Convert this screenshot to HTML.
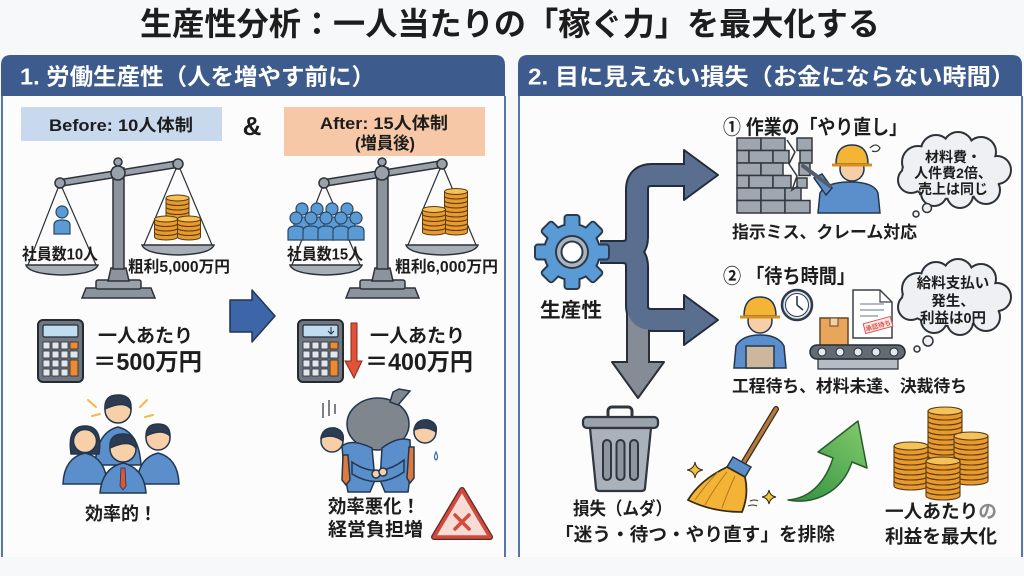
<!DOCTYPE html>
<html><head><meta charset="utf-8">
<style>
html,body{margin:0;padding:0;background:#f7f8fa;}
svg{display:block;}
text{font-family:"Liberation Sans","Noto Sans CJK JP",sans-serif;font-weight:bold;fill:#1d1d1d;}
</style></head><body>
<svg width="1024" height="576" viewBox="0 0 1024 576" xmlns="http://www.w3.org/2000/svg" xmlns:xlink="http://www.w3.org/1999/xlink">
<defs>
<g id="coinS"><path d="M-11.5 0 L-11.5 4.5 A11.5 3 0 0 0 11.5 4.5 L11.5 0 Z" fill="#e99a2e" stroke="#5b3b10" stroke-width="1"/><ellipse cx="0" cy="0" rx="11.5" ry="3" fill="#f6c158" stroke="#5b3b10" stroke-width="1"/></g>
<g id="coinL"><path d="M-17 0 L-17 5 A17 4 0 0 0 17 5 L17 0 Z" fill="#e99a2e" stroke="#5b3b10" stroke-width="1.1"/><ellipse cx="0" cy="0" rx="17" ry="4" fill="#f6c158" stroke="#5b3b10" stroke-width="1.1"/></g>
<g id="pp"><path d="M-8 22 L-8 13 Q-8 8 0 8 Q8 8 8 13 L8 22 Z" fill="#5b9bd5" stroke="#2c4763" stroke-width="1.2"/><circle cx="0" cy="0" r="6" fill="#5b9bd5" stroke="#2c4763" stroke-width="1.2"/></g>
<g id="scf">
<path d="M60 183 L28 265 M60 183 L96 265 M178 164 L144 245 M178 164 L212 245" stroke="#2d3239" stroke-width="1.2" fill="none"/>
<path d="M82 298 L86 288 L151 288 L155 298 Z" fill="#8c939c" stroke="#2d3239" stroke-width="1.5"/>
<rect x="96" y="280" width="45" height="9" rx="2" fill="#9aa1aa" stroke="#2d3239" stroke-width="1.5"/>
<path d="M108 281 L111 268 L126 268 L129 281 Z" fill="#8c939c" stroke="#2d3239" stroke-width="1.5"/>
<rect x="113" y="168" width="11" height="101" fill="#8c939c" stroke="#2d3239" stroke-width="1.5"/>
<line x1="60" y1="183" x2="178" y2="164" stroke="#2d3239" stroke-width="8" stroke-linecap="round"/>
<line x1="60" y1="183" x2="178" y2="164" stroke="#9aa1aa" stroke-width="5" stroke-linecap="round"/>
<circle cx="118" cy="162" r="4" fill="#9aa1aa" stroke="#2d3239" stroke-width="1.5"/>
<circle cx="118" cy="173" r="7" fill="#9aa1aa" stroke="#2d3239" stroke-width="1.5"/>
<circle cx="60" cy="183" r="5" fill="#9aa1aa" stroke="#2d3239" stroke-width="1.5"/>
<circle cx="178" cy="164" r="5" fill="#9aa1aa" stroke="#2d3239" stroke-width="1.5"/>
<path d="M26 265 L98 265 Q95 274 62 275 Q29 274 26 265 Z" fill="#a8aeb6" stroke="#2d3239" stroke-width="1.5"/>
<path d="M142 245 L214 245 Q211 254 178 255 Q145 254 142 245 Z" fill="#a8aeb6" stroke="#2d3239" stroke-width="1.5"/>
</g>
<g id="calc">
<rect x="0" y="0" width="45" height="62" rx="5" fill="#6e7782" stroke="#262b31" stroke-width="2"/>
<rect x="5" y="5" width="35" height="12" rx="1.5" fill="#bfdcf0" stroke="#262b31" stroke-width="1.2"/>
<g fill="#e3e7ec" stroke="#262b31" stroke-width="0.8">
<rect x="5" y="22" width="7" height="7"/><rect x="14" y="22" width="7" height="7"/><rect x="23" y="22" width="7" height="7"/>
<rect x="5" y="31" width="7" height="7"/><rect x="14" y="31" width="7" height="7"/><rect x="23" y="31" width="7" height="7"/><rect x="32" y="31" width="8" height="7"/>
<rect x="5" y="40" width="7" height="7"/><rect x="14" y="40" width="7" height="7"/><rect x="23" y="40" width="7" height="7"/>
<rect x="5" y="49" width="7" height="7"/><rect x="14" y="49" width="7" height="7"/><rect x="23" y="49" width="7" height="7"/>
</g>
<rect x="32" y="22" width="8" height="7" fill="#ee8a2f" stroke="#262b31" stroke-width="0.8"/>
<rect x="32" y="40" width="8" height="16" fill="#ee8a2f" stroke="#262b31" stroke-width="0.8"/>
</g>
<g id="gs">
<circle cx="0" cy="0" r="27"/>
<rect x="-6.5" y="-36" width="13" height="14" rx="2"/>
<rect x="-6.5" y="-36" width="13" height="14" rx="2" transform="rotate(45)"/>
<rect x="-6.5" y="-36" width="13" height="14" rx="2" transform="rotate(90)"/>
<rect x="-6.5" y="-36" width="13" height="14" rx="2" transform="rotate(135)"/>
<rect x="-6.5" y="-36" width="13" height="14" rx="2" transform="rotate(180)"/>
<rect x="-6.5" y="-36" width="13" height="14" rx="2" transform="rotate(225)"/>
<rect x="-6.5" y="-36" width="13" height="14" rx="2" transform="rotate(270)"/>
<rect x="-6.5" y="-36" width="13" height="14" rx="2" transform="rotate(315)"/>
</g>
<g id="cl">
<ellipse cx="953" cy="172" rx="50" ry="26"/>
<circle cx="918" cy="162" r="15"/><circle cx="936" cy="150" r="14"/><circle cx="958" cy="147" r="14"/>
<circle cx="981" cy="152" r="14"/><circle cx="997" cy="170" r="13"/><circle cx="986" cy="190" r="13"/>
<circle cx="960" cy="195" r="12"/><circle cx="934" cy="193" r="12"/><circle cx="911" cy="180" r="12"/>
</g>
<path id="br" d="M600 252 L622 252 Q637 252 637 237 L637 190 Q637 175 652 175 L692 175 M622 252 Q637 252 637 267 L637 305 Q637 320 652 320 L692 320" fill="none"/>
<linearGradient id="gg" x1="0" y1="1" x2="1" y2="0"><stop offset="0" stop-color="#2f8f3f"/><stop offset="1" stop-color="#84cc6c"/></linearGradient>
</defs>

<rect width="1024" height="576" fill="#f7f8fa"/>

<!-- Title -->
<text x="140" y="35" font-size="32" textLength="740" lengthAdjust="spacingAndGlyphs">生産性分析：一人当たりの「稼ぐ力」を最大化する</text>

<!-- Panels -->
<rect x="2" y="96" width="503" height="461" fill="#fcfcfd"/>
<rect x="519" y="96" width="503" height="461" fill="#fcfcfd"/>
<path d="M1 96 L1 65 Q1 55 11 55 L495 55 Q505 55 505 65 L505 96 Z" fill="#3d5c8d"/>
<path d="M518 96 L518 65 Q518 55 528 55 L1012 55 Q1022 55 1022 65 L1022 96 Z" fill="#3d5c8d"/>
<path d="M2 96 L2 557 M505 96 L505 557 M519 96 L519 557 M1022 96 L1022 557" stroke="#5676a7" stroke-width="2" fill="none"/>
<text x="20" y="84.5" font-size="23" textLength="355" lengthAdjust="spacingAndGlyphs" style="fill:#fff">1. 労働生産性（人を増やす前に）</text>
<text x="528" y="84.5" font-size="23" textLength="487" lengthAdjust="spacingAndGlyphs" style="fill:#fff">2. 目に見えない損失（お金にならない時間）</text>

<!-- Before / After -->
<rect x="21" y="107" width="201" height="34" fill="#c8d8ed"/>
<rect x="284" y="107" width="201" height="49" fill="#f7c8a7"/>
<text x="49" y="131" font-size="17" textLength="144" lengthAdjust="spacingAndGlyphs">Before: 10人体制</text>
<text x="252" y="135" font-size="26" text-anchor="middle">&amp;</text>
<text x="320" y="129" font-size="17" textLength="128" lengthAdjust="spacingAndGlyphs">After: 15人体制</text>
<text x="355" y="149" font-size="17" textLength="60" lengthAdjust="spacingAndGlyphs">(増員後)</text>

<!-- Scales -->
<use href="#scf" xlink:href="#scf"/>
<use href="#scf" xlink:href="#scf" x="264"/>
<use href="#pp" xlink:href="#pp" x="62" y="212"/>
<!-- coins scale1 -->
<use href="#coinS" xlink:href="#coinS" x="177.5" y="211.5"/><use href="#coinS" xlink:href="#coinS" x="177.5" y="207"/><use href="#coinS" xlink:href="#coinS" x="177.5" y="202.5"/><use href="#coinS" xlink:href="#coinS" x="177.5" y="198"/>
<use href="#coinS" xlink:href="#coinS" x="166" y="232.5"/><use href="#coinS" xlink:href="#coinS" x="166" y="228"/><use href="#coinS" xlink:href="#coinS" x="166" y="223.5"/><use href="#coinS" xlink:href="#coinS" x="166" y="219"/>
<use href="#coinS" xlink:href="#coinS" x="189" y="232.5"/><use href="#coinS" xlink:href="#coinS" x="189" y="228"/><use href="#coinS" xlink:href="#coinS" x="189" y="223.5"/><use href="#coinS" xlink:href="#coinS" x="189" y="219"/>
<!-- people scale2 -->
<use href="#pp" xlink:href="#pp" x="302" y="209"/><use href="#pp" xlink:href="#pp" x="317" y="209"/><use href="#pp" xlink:href="#pp" x="332" y="209"/><use href="#pp" xlink:href="#pp" x="347" y="209"/>
<use href="#pp" xlink:href="#pp" x="296" y="218"/><use href="#pp" xlink:href="#pp" x="311" y="218"/><use href="#pp" xlink:href="#pp" x="326" y="218"/><use href="#pp" xlink:href="#pp" x="341" y="218"/><use href="#pp" xlink:href="#pp" x="356" y="218"/>
<!-- coins scale2 -->
<use href="#coinS" xlink:href="#coinS" x="456" y="227.5"/><use href="#coinS" xlink:href="#coinS" x="456" y="223"/><use href="#coinS" xlink:href="#coinS" x="456" y="218.5"/><use href="#coinS" xlink:href="#coinS" x="456" y="214"/><use href="#coinS" xlink:href="#coinS" x="456" y="209.5"/><use href="#coinS" xlink:href="#coinS" x="456" y="205"/><use href="#coinS" xlink:href="#coinS" x="456" y="200.5"/><use href="#coinS" xlink:href="#coinS" x="456" y="196"/><use href="#coinS" xlink:href="#coinS" x="456" y="191.5"/>
<use href="#coinS" xlink:href="#coinS" x="434" y="227.5"/><use href="#coinS" xlink:href="#coinS" x="434" y="223"/><use href="#coinS" xlink:href="#coinS" x="434" y="218.5"/><use href="#coinS" xlink:href="#coinS" x="434" y="214"/><use href="#coinS" xlink:href="#coinS" x="434" y="209.5"/>

<text x="22" y="259.5" font-size="16" textLength="76" lengthAdjust="spacingAndGlyphs">社員数10人</text>
<text x="128" y="272" font-size="16" textLength="102" lengthAdjust="spacingAndGlyphs">粗利5,000万円</text>
<text x="287" y="259.5" font-size="16" textLength="76" lengthAdjust="spacingAndGlyphs">社員数15人</text>
<text x="395" y="272" font-size="16" textLength="103" lengthAdjust="spacingAndGlyphs">粗利6,000万円</text>

<!-- blue arrow -->
<path d="M230 300 L252 300 L252 290 L275 316 L252 342 L252 332 L230 332 Z" fill="#3d66a8" stroke="#1f3457" stroke-width="1.5" stroke-linejoin="round"/>

<!-- calculators -->
<use href="#calc" xlink:href="#calc" x="38" y="320"/>
<use href="#calc" xlink:href="#calc" x="298" y="320"/>
<path d="M331 327 L331 334 M328 331 L331 334 L334 331" stroke="#262b31" stroke-width="1" fill="none"/>
<path d="M351 323 L357 323 L357 361 L362 361 L354 378 L345 361 L351 361 Z" fill="#e0523a" stroke="#8a2a1a" stroke-width="1"/>
<text x="98" y="342" font-size="19" textLength="95" lengthAdjust="spacingAndGlyphs">一人あたり</text>
<text x="93" y="370" font-size="24" textLength="109" lengthAdjust="spacingAndGlyphs">＝500万円</text>
<text x="370" y="342" font-size="19" textLength="95" lengthAdjust="spacingAndGlyphs">一人あたり</text>
<text x="365" y="370" font-size="24" textLength="108" lengthAdjust="spacingAndGlyphs">＝400万円</text>

<!-- happy people -->
<g stroke="#f2b84a" stroke-width="2" stroke-linecap="round">
<line x1="88" y1="400" x2="96" y2="407"/><line x1="92" y1="416" x2="100" y2="414"/>
<line x1="140" y1="407" x2="147" y2="400"/><line x1="145" y1="417" x2="153" y2="415"/>
</g>
<g stroke="#23364f" stroke-width="1.5">
<path d="M95 465 Q97 432 118 427 Q139 432 141 465 Z" fill="#5b8fcb"/>
<circle cx="118" cy="410" r="13" fill="#f7cfa8"/>
<path d="M105 409 Q104 395 118 395 Q132 395 131 409 Q124 400 105 409 Z" fill="#2d3c52"/>
<path d="M71 454 Q67 426 85 426 Q103 426 99 454 Z" fill="#2d3c52"/>
<path d="M63 484 Q64 458 85 453 Q106 458 107 484 Z" fill="#5b8fcb"/>
<circle cx="85" cy="441" r="11.5" fill="#f7cfa8"/>
<path d="M137 484 Q138 458 158 453 Q178 458 179 484 Z" fill="#5b8fcb"/>
<circle cx="158" cy="438" r="12" fill="#f7cfa8"/>
<path d="M146 436 Q146 424 158 424 Q170 424 170 436 Q162 428 146 436 Z" fill="#2d3c52"/>
<path d="M100 493 Q102 468 123 463 Q144 468 146 493 Z" fill="#5b8fcb"/>
<circle cx="123" cy="449" r="13" fill="#f7cfa8"/>
<path d="M110 448 Q109 434 123 434 Q137 434 136 448 Q129 439 110 448 Z" fill="#2d3c52"/>
<path d="M121 468 L125 468 L126 486 L123 490 L120 486 Z" fill="#d9573a" stroke-width="0.8"/>
</g>
<text x="85" y="520" font-size="18" textLength="72" lengthAdjust="spacingAndGlyphs">効率的！</text>

<!-- men carrying bag -->
<g stroke="#2a2f35" stroke-width="1.2" fill="none"><line x1="323" y1="403" x2="323" y2="418"/><line x1="329" y1="400" x2="329" y2="416"/><line x1="335" y1="404" x2="335" y2="414"/></g>
<g stroke="#23364f" stroke-width="1.5">
<ellipse cx="378" cy="424" rx="31" ry="26" fill="#80868d"/>
<path d="M390 402 L393 392 L399 389 L410 391 L404 398 L398 405 Z" fill="#80868d"/>
<path d="M342 446 Q352 438 372 448 L375 480 L370 492 L348 492 L344 470 Z" fill="#5b8fcb"/>
<path d="M410 440 Q398 436 382 448 L380 480 L385 492 L408 492 L411 470 Z" fill="#5b8fcb"/>
<path d="M352 462 Q378 480 404 460 L404 472 Q378 490 352 474 Z" fill="#5b8fcb"/>
<circle cx="376" cy="474" r="4" fill="#f6cfa8"/><circle cx="383" cy="472" r="4" fill="#f6cfa8"/>
<path d="M343 455 L348 455 L350 480 L346 485 L342 480 Z" fill="#e07a3a"/>
<path d="M409 447 L414 447 L414 478 L410 483 L407 478 Z" fill="#e07a3a"/>
<circle cx="332" cy="441" r="11" fill="#f6cfa8"/>
<path d="M321 438 Q323 427 335 428 Q345 431 343 441 Q333 433 321 438 Z" fill="#2d3c52"/>
<circle cx="425" cy="432" r="11" fill="#f6cfa8"/>
<path d="M414 430 Q416 419 428 420 Q438 423 436 432 Q426 425 414 430 Z" fill="#2d3c52"/>
</g>
<path d="M436 452 Q433 458 436 460 Q439 458 436 452 Z" fill="none" stroke="#3a6aa8" stroke-width="1.2"/>
<text x="328" y="513" font-size="18.5" textLength="92" lengthAdjust="spacingAndGlyphs">効率悪化！</text>
<text x="328" y="536" font-size="18.5" textLength="95" lengthAdjust="spacingAndGlyphs">経営負担増</text>
<path d="M462 490 L490 537 L434 537 Z" fill="#f6dcd4" stroke="#5a2a26" stroke-width="6" stroke-linejoin="round"/>
<path d="M462 490 L490 537 L434 537 Z" fill="#f6dcd4" stroke="#d2493c" stroke-width="3.5" stroke-linejoin="round"/>
<path d="M455 515 L469 529 M469 515 L455 529" stroke="#d64a3c" stroke-width="3.5" stroke-linecap="round"/>

<!-- Right panel: gear & arrows -->
<use href="#br" xlink:href="#br" stroke="#222c3c" stroke-width="24"/>
<path d="M638 312 L638 366" stroke="#2a2f37" stroke-width="24" fill="none"/>
<path d="M638 312 L638 366" stroke="#868c95" stroke-width="20" fill="none"/>
<use href="#br" xlink:href="#br" stroke="#5a6f90" stroke-width="20"/>
<path d="M684 150 L718 175 L684 200 Z" fill="#5a6f90" stroke="#222c3c" stroke-width="2" stroke-linejoin="round"/>
<path d="M684 295 L718 320 L684 345 Z" fill="#5a6f90" stroke="#222c3c" stroke-width="2" stroke-linejoin="round"/>
<path d="M612 362 L664 362 L638 398 Z" fill="#868c95" stroke="#2a2f37" stroke-width="2" stroke-linejoin="round"/>
<path d="M678 175 L688 175 M678 320 L688 320" stroke="#5a6f90" stroke-width="20"/>
<path d="M638 355 L638 365" stroke="#868c95" stroke-width="20"/>
<g transform="translate(572,252)">
<use href="#gs" xlink:href="#gs" fill="#2b3a4d" stroke="#2b3a4d" stroke-width="4"/>
<use href="#gs" xlink:href="#gs" fill="#5b9bd5"/>
<circle r="16" fill="#aeb4bb" stroke="#2b3a4d" stroke-width="2"/>
<circle r="10.5" fill="#ffffff" stroke="#2b3a4d" stroke-width="2"/>
</g>
<text x="540" y="317" font-size="20" textLength="62" lengthAdjust="spacingAndGlyphs">生産性</text>

<!-- ① rework -->
<text x="723" y="134" font-size="20" textLength="184" lengthAdjust="spacingAndGlyphs">① 作業の「やり直し」</text>
<g fill="#9ea6b0" stroke="#33383f" stroke-width="1.5">
<rect x="737" y="138" width="24" height="12.5"/><rect x="761" y="138" width="24" height="12.5"/><rect x="797" y="138" width="15" height="12.5"/>
<rect x="737" y="150.5" width="12" height="12.5"/><rect x="749" y="150.5" width="24" height="12.5"/><rect x="773" y="150.5" width="16" height="12.5"/><rect x="800" y="150.5" width="12" height="12.5"/>
<rect x="737" y="163" width="24" height="12.5"/><rect x="761" y="163" width="22" height="12.5"/><rect x="799" y="163" width="11" height="12.5"/>
<rect x="737" y="175.5" width="12" height="12.5"/><rect x="749" y="175.5" width="24" height="12.5"/><rect x="773" y="175.5" width="18" height="12.5"/><rect x="797" y="178" width="10" height="10"/>
<rect x="737" y="188" width="24" height="12.5"/><rect x="761" y="188" width="24" height="12.5"/><rect x="785" y="188" width="16" height="12.5"/>
<rect x="737" y="200.5" width="24" height="12.5"/><rect x="761" y="200.5" width="24" height="12.5"/><rect x="785" y="200.5" width="25" height="12.5"/>
</g>
<path d="M787 140 L795 152 L789 164 L797 176 L792 190 L798 186" fill="none" stroke="#33383f" stroke-width="1.5"/>
<g stroke="#23364f" stroke-width="1.5">
<path d="M818 213 L820 193 Q826 182 850 182 Q874 182 878 193 L880 213 Z" fill="#5b8fcb"/>
<path d="M826 195 L814 178 L822 174 L832 188 Z" fill="#5b8fcb"/>
<line x1="803" y1="166" x2="830" y2="186" stroke="#555d66" stroke-width="4" stroke-linecap="round"/>
<circle cx="852" cy="169" r="12" fill="#f6cfa8"/>
<path d="M836 164 Q836 145 852 145 Q868 145 868 164 Z" fill="#f4b436"/>
<line x1="832" y1="165" x2="872" y2="165" stroke="#d8901c" stroke-width="3"/>
</g>
<path d="M870 148 Q876 142 880 148 Q878 153 872 151" fill="none" stroke="#33383f" stroke-width="1.2"/>
<use href="#cl" xlink:href="#cl" fill="#2e333a" stroke="#2e333a" stroke-width="4"/>
<use href="#cl" xlink:href="#cl" fill="#eef0f3"/>
<circle cx="927" cy="208" r="4.5" fill="#eef0f3" stroke="#2e333a" stroke-width="1.5"/>
<circle cx="916" cy="214" r="3" fill="#eef0f3" stroke="#2e333a" stroke-width="1.5"/>
<text x="953" y="162" font-size="14" text-anchor="middle">材料費・</text>
<text x="953" y="178" font-size="14" text-anchor="middle">人件費2倍、</text>
<text x="953" y="194" font-size="14" text-anchor="middle">売上は同じ</text>
<text x="732" y="238" font-size="17" textLength="185" lengthAdjust="spacingAndGlyphs">指示ミス、クレーム対応</text>

<!-- ② waiting -->
<text x="723" y="283" font-size="20" textLength="132" lengthAdjust="spacingAndGlyphs">② 「待ち時間」</text>
<g stroke="#23364f" stroke-width="1.5">
<path d="M734 368 L736 346 Q742 335 760 335 Q778 335 784 346 L786 368 Z" fill="#5b8fcb"/>
<path d="M746 346 L774 346 L774 368 L746 368 Z" fill="#cdb79c"/>
<circle cx="760" cy="321" r="12" fill="#f6cfa8"/>
<path d="M744 316 Q744 297 760 297 Q776 297 776 316 Z" fill="#f4b436"/>
<line x1="740" y1="317" x2="780" y2="317" stroke="#d8901c" stroke-width="3"/>
</g>
<circle cx="797" cy="305" r="15" fill="#dfe6ee" stroke="#2d3a4d" stroke-width="2.5"/>
<circle cx="797" cy="305" r="11.5" fill="#ffffff" stroke="#2d3a4d" stroke-width="1"/>
<path d="M797 305 L797 296 M797 305 L803 310" stroke="#2d3a4d" stroke-width="1.6"/>
<path d="M853 290 L880 290 L892 302 L892 338 L853 338 Z" fill="#ffffff" stroke="#3a4048" stroke-width="1.5"/>
<path d="M880 290 L880 302 L892 302" fill="none" stroke="#3a4048" stroke-width="1.2"/>
<path d="M860 304 L884 304 M860 310 L884 310 M860 316 L878 316" stroke="#9aa3ad" stroke-width="1.5"/>
<g transform="rotate(-15 878 325)"><rect x="864" y="320" width="28" height="10" fill="#fde9e6" stroke="#d9534f" stroke-width="1"/><text x="878" y="328" font-size="6.5" text-anchor="middle" style="fill:#d9534f">承認待ち</text></g>
<rect x="820" y="318" width="28" height="28" fill="#e8a55c" stroke="#6a4520" stroke-width="1.5"/>
<rect x="830" y="318" width="8" height="8" fill="#f3d1a2" stroke="#6a4520" stroke-width="1"/>
<rect x="818" y="359" width="80" height="10" fill="#b5bcc4" stroke="#262b31" stroke-width="1.2"/>
<rect x="810" y="345" width="95" height="14" rx="7" fill="#626a74" stroke="#262b31" stroke-width="1.5"/>
<g fill="#e5e9ee" stroke="#262b31" stroke-width="1"><circle cx="822" cy="352" r="4"/><circle cx="840" cy="352" r="4"/><circle cx="858" cy="352" r="4"/><circle cx="876" cy="352" r="4"/><circle cx="894" cy="352" r="4"/></g>
<g transform="translate(0,127)">
<use href="#cl" xlink:href="#cl" fill="#2e333a" stroke="#2e333a" stroke-width="4"/>
<use href="#cl" xlink:href="#cl" fill="#eef0f3"/>
</g>
<circle cx="928" cy="341" r="5" fill="#eef0f3" stroke="#2e333a" stroke-width="1.5"/>
<circle cx="917" cy="349" r="3" fill="#eef0f3" stroke="#2e333a" stroke-width="1.5"/>
<text x="953" y="288" font-size="14.5" text-anchor="middle">給料支払い</text>
<text x="953" y="306" font-size="14.5" text-anchor="middle">発生、</text>
<text x="953" y="323" font-size="14.5" text-anchor="middle">利益は0円</text>
<text x="732" y="392" font-size="17" textLength="235" lengthAdjust="spacingAndGlyphs">工程待ち、材料未達、決裁待ち</text>

<!-- bottom row -->
<rect x="608" y="407" width="24" height="14" rx="4" fill="none" stroke="#30363e" stroke-width="3"/>
<rect x="583" y="417" width="75" height="11" rx="4" fill="#9aa2ac" stroke="#30363e" stroke-width="2.2"/>
<path d="M590 428 L651 428 L645 488 Q645 491 641 491 L600 491 Q596 491 596 488 Z" fill="#aab1ba" stroke="#30363e" stroke-width="2.2"/>
<g fill="#8d959f" stroke="#30363e" stroke-width="2"><rect x="603" y="440" width="8" height="40" rx="4"/><rect x="616.5" y="440" width="8" height="40" rx="4"/><rect x="630" y="440" width="8" height="40" rx="4"/></g>

<line x1="776" y1="409" x2="744" y2="462" stroke="#3a2a18" stroke-width="6" stroke-linecap="round"/>
<line x1="776" y1="409" x2="744" y2="462" stroke="#b07a3e" stroke-width="3.5" stroke-linecap="round"/>
<path d="M733 457 L751 467 L745 477 L727 467 Z" fill="#5b8fcb" stroke="#2a3340" stroke-width="1.5"/>
<path d="M727 467 L745 477 Q749 495 742 512 Q712 512 688 500 Q700 480 727 467 Z" fill="#f2b336" stroke="#3a2d14" stroke-width="1.8"/>
<path d="M735 476 Q728 491 722 508 M727 472 Q715 487 705 505 M718 472 Q706 484 695 500" stroke="#b07a1e" fill="none" stroke-width="1"/>
<path d="M695 462 Q696 469 703 470 Q696 471 695 478 Q694 471 687 470 Q694 469 695 462 Z" fill="#f5c03a" stroke="#3a2d14" stroke-width="1"/>
<path d="M769 490 Q770 496 776 497 Q770 498 769 504 Q768 498 762 497 Q768 496 769 490 Z" fill="#f5c03a" stroke="#3a2d14" stroke-width="1"/>
<path d="M750 501 Q755 499 758 501 M748 506 Q753 504 757 506" stroke="#3a2d14" stroke-width="1" fill="none"/>

<path d="M788 500 C812 498 826 480 833 458 L818 452 L858 421 L867 468 L852 462 C842 492 815 505 788 500 Z" fill="url(#gg)" stroke="#2a5a2f" stroke-width="1.5" stroke-linejoin="round"/>

<!-- coins right -->
<use href="#coinL" xlink:href="#coinL" x="945" y="461"/><use href="#coinL" xlink:href="#coinL" x="945" y="456"/><use href="#coinL" xlink:href="#coinL" x="945" y="451"/><use href="#coinL" xlink:href="#coinL" x="945" y="446"/><use href="#coinL" xlink:href="#coinL" x="945" y="441"/><use href="#coinL" xlink:href="#coinL" x="945" y="436"/><use href="#coinL" xlink:href="#coinL" x="945" y="431"/><use href="#coinL" xlink:href="#coinL" x="945" y="426"/><use href="#coinL" xlink:href="#coinL" x="945" y="421"/><use href="#coinL" xlink:href="#coinL" x="945" y="416"/><use href="#coinL" xlink:href="#coinL" x="945" y="411"/>
<use href="#coinL" xlink:href="#coinL" x="971" y="476"/><use href="#coinL" xlink:href="#coinL" x="971" y="471"/><use href="#coinL" xlink:href="#coinL" x="971" y="466"/><use href="#coinL" xlink:href="#coinL" x="971" y="461"/><use href="#coinL" xlink:href="#coinL" x="971" y="456"/><use href="#coinL" xlink:href="#coinL" x="971" y="451"/><use href="#coinL" xlink:href="#coinL" x="971" y="446"/><use href="#coinL" xlink:href="#coinL" x="971" y="441"/><use href="#coinL" xlink:href="#coinL" x="971" y="436"/>
<use href="#coinL" xlink:href="#coinL" x="911" y="481"/><use href="#coinL" xlink:href="#coinL" x="911" y="476"/><use href="#coinL" xlink:href="#coinL" x="911" y="471"/><use href="#coinL" xlink:href="#coinL" x="911" y="466"/><use href="#coinL" xlink:href="#coinL" x="911" y="461"/><use href="#coinL" xlink:href="#coinL" x="911" y="456"/><use href="#coinL" xlink:href="#coinL" x="911" y="451"/><use href="#coinL" xlink:href="#coinL" x="911" y="446"/>
<use href="#coinL" xlink:href="#coinL" x="943" y="491"/><use href="#coinL" xlink:href="#coinL" x="943" y="486"/><use href="#coinL" xlink:href="#coinL" x="943" y="481"/><use href="#coinL" xlink:href="#coinL" x="943" y="476"/><use href="#coinL" xlink:href="#coinL" x="943" y="471"/><use href="#coinL" xlink:href="#coinL" x="943" y="466"/><use href="#coinL" xlink:href="#coinL" x="943" y="461"/>

<text x="573" y="515" font-size="18" textLength="99" lengthAdjust="spacingAndGlyphs">損失（ムダ）</text>
<text x="555" y="541" font-size="18.5" textLength="280" lengthAdjust="spacingAndGlyphs">「迷う・待つ・やり直す」を排除</text>
<text x="885" y="518" font-size="18.5" textLength="112" lengthAdjust="spacingAndGlyphs">一人あたり<tspan style="fill:#8a8a8a">の</tspan></text>
<text x="885" y="543" font-size="18.5" textLength="112" lengthAdjust="spacingAndGlyphs">利益を最大化</text>
</svg>
</body></html>
